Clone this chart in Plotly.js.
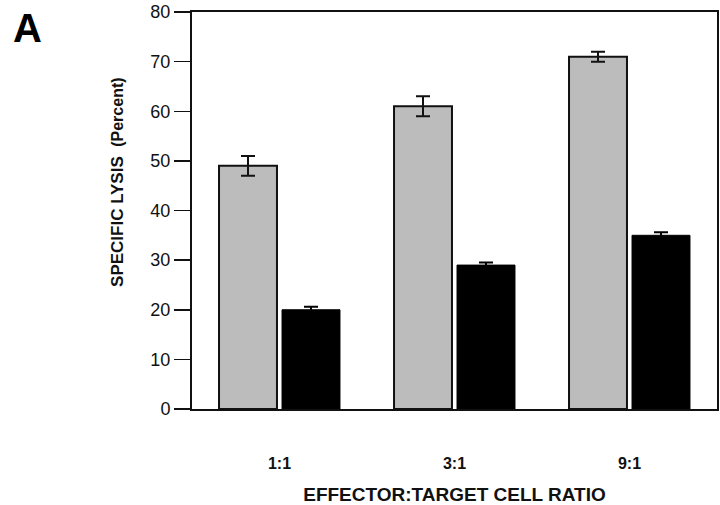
<!DOCTYPE html>
<html>
<head>
<meta charset="utf-8">
<script src="https://cdn.plot.ly/plotly-3.0.1.min.js"></script>
<style>html,body{margin:0;padding:0;background:#fff;}#chart{width:720px;height:505px;}</style>
</head>
<body>
<div id="chart"></div>
<script>
const categories = ['1:1', '3:1', '9:1'];
const greyValues = [49, 61, 71];
const greyErrors = [2, 2, 1];
const blackValues = [20, 29, 35];
const blackErrors = [0.6, 0.5, 0.6];
const yTicks = [0, 10, 20, 30, 40, 50, 60, 70, 80];

const FONT = 'Liberation Sans, Arial, Helvetica, sans-serif';
const PAD = '&nbsp;'.repeat(12);

const traces = [
  {
    type: 'bar', x: categories, y: greyValues, name: 'grey',
    marker: {color: '#bcbcbc', line: {color: '#111', width: 2}},
    error_y: {type: 'data', array: greyErrors, visible: true, color: '#111', thickness: 2, width: 7}
  },
  {
    type: 'bar', x: categories, y: blackValues, name: 'black',
    marker: {color: '#000', line: {color: '#000', width: 1}},
    error_y: {type: 'data', array: blackErrors, visible: true, color: '#000', thickness: 2, width: 7}
  }
];

const layout = {
  width: 720, height: 505,
  margin: {l: 192, r: 3, t: 12, b: 96},
  paper_bgcolor: '#fff', plot_bgcolor: '#fff',
  showlegend: false,
  barmode: 'group', bargap: 0.28, bargroupgap: 0.08,
  font: {family: FONT, color: '#111'},
  xaxis: {
    type: 'category', range: [-0.5, 2.5],
    showline: true, linecolor: '#111', linewidth: 2, mirror: true,
    ticks: '', showgrid: false, zeroline: false,
    tickfont: {family: FONT, size: 16, color: '#111', weight: 'bold'},
    ticklabelstandoff: 39,
    title: {text: '<b>EFFECTOR:TARGET CELL RATIO</b>', font: {family: FONT, size: 19, color: '#111'}, standoff: 18},
    automargin: false
  },
  yaxis: {
    range: [0, 80], tickvals: yTicks, ticktext: yTicks.map(String),
    showline: true, linecolor: '#111', linewidth: 2, mirror: true,
    ticks: 'outside', ticklen: 16, tickwidth: 1.5, tickcolor: '#111',
    showgrid: false, zeroline: false,
    tickfont: {family: FONT, size: 18, color: '#111'},
    title: {text: PAD + '<b>SPECIFIC LYSIS</b>  <b><span style="font-size:16px">(Percent)</span></b>', font: {family: FONT, size: 17, color: '#111'}, standoff: 22},
    automargin: false
  },
  annotations: [
    {text: '<b>A</b>', xref: 'paper', yref: 'paper', x: -0.345, y: 1.0, xanchor: 'left', yanchor: 'top', showarrow: false,
     font: {family: FONT, size: 40, color: '#000'}, yshift: 8}
  ]
};

Plotly.newPlot('chart', traces, layout, {displayModeBar: false, staticPlot: true});
</script>
</body>
</html>
